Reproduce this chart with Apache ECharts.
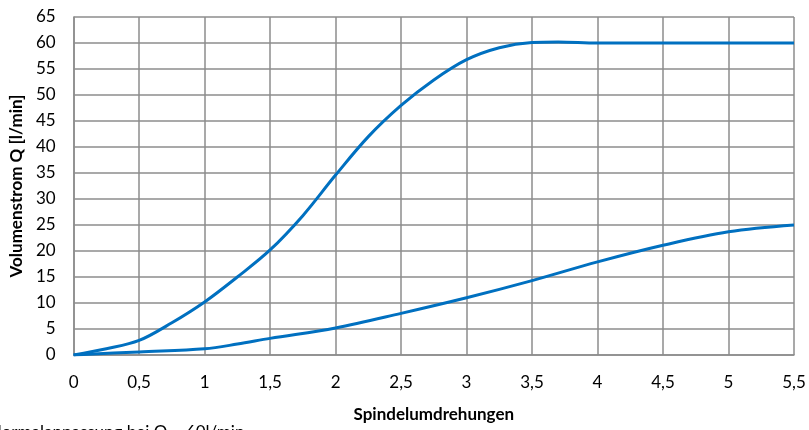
<!DOCTYPE html>
<html>
<head>
<meta charset="utf-8">
<script src="https://cdn.jsdelivr.net/npm/echarts@6/dist/echarts.min.js"></script>
<style>html,body{margin:0;padding:0;background:#fff}#c{width:809px;height:430px}</style>
</head>
<body>
<div id="c"></div>
<script>
const xValues = [0, 0.25, 0.5, 0.75, 1, 1.25, 1.5, 1.75, 2, 2.25, 2.5, 2.75, 3, 3.25, 3.5, 3.7, 4, 4.5, 5, 5.5];
const upperSeries = [0, 1.2, 2.8, 6.2, 10.2, 15, 20.2, 26.8, 34.6, 42, 48, 52.9, 56.8, 59.1, 60.1, 60.2, 60, 60, 60, 60];
const lowerX = [0, 0.5, 1, 1.25, 1.5, 2, 2.5, 3, 3.5, 4, 4.5, 5, 5.5];
const lowerSeries = [0, 0.6, 1.2, 2.1, 3.2, 5.2, 8.0, 11.0, 14.3, 17.9, 21.1, 23.7, 25];
const yTicks = {min: 0, max: 65, interval: 5};
const xTicks = {min: 0, max: 5.5, interval: 0.5};
const xName = 'Spindelumdrehungen';
const yName = 'Volumenstrom Q [l/min]';
const footnote = 'Normalanpassung bei Q = 60l/min';

const font = 'Lato, "Open Sans", sans-serif';
const chart = echarts.init(document.getElementById('c'), null, {renderer: 'canvas'});
const grid = '#8c8c8c';
chart.setOption({
  animation: false,
  grid: {left: 71, right: 15, top: 17, bottom: 75},
  xAxis: {
    type: 'value', min: xTicks.min, max: xTicks.max, interval: xTicks.interval,
    name: xName, nameLocation: 'middle', nameGap: 51,
    nameTextStyle: {fontFamily: font, fontWeight: 'bold', fontSize: 17, color: '#000'},
    axisLine: {show: true, lineStyle: {color: grid, width: 1.5}},
    axisTick: {show: false},
    axisLabel: {fontFamily: font, fontSize: 17, color: '#000', margin: 19,
      formatter: v => String(v).replace('.', ',')},
    splitLine: {show: true, lineStyle: {color: grid, width: 1.5}}
  },
  yAxis: {
    type: 'value', min: yTicks.min, max: yTicks.max, interval: yTicks.interval,
    name: yName, nameLocation: 'middle', nameGap: 45, nameRotate: 90,
    nameTextStyle: {fontFamily: font, fontWeight: 'bold', fontSize: 17, color: '#000'},
    axisLine: {show: true, lineStyle: {color: grid, width: 1.5}},
    axisTick: {show: false},
    axisLabel: {fontFamily: font, fontSize: 17, color: '#000', margin: 18},
    splitLine: {show: true, lineStyle: {color: grid, width: 1.5}}
  },
  series: [
    {type: 'line', data: xValues.map((x, i) => [x, upperSeries[i]]), smooth: 0.35,
     showSymbol: false, lineStyle: {color: '#0070C0', width: 3}},
    {type: 'line', data: lowerX.map((x, i) => [x, lowerSeries[i]]), smooth: 0.35,
     showSymbol: false, lineStyle: {color: '#0070C0', width: 3}}
  ],
  graphic: [
    {type: 'text', left: -11, top: 424,
     style: {text: footnote, fontFamily: font, fontSize: 17, fill: '#000'}}
  ]
});
</script>
</body>
</html>
